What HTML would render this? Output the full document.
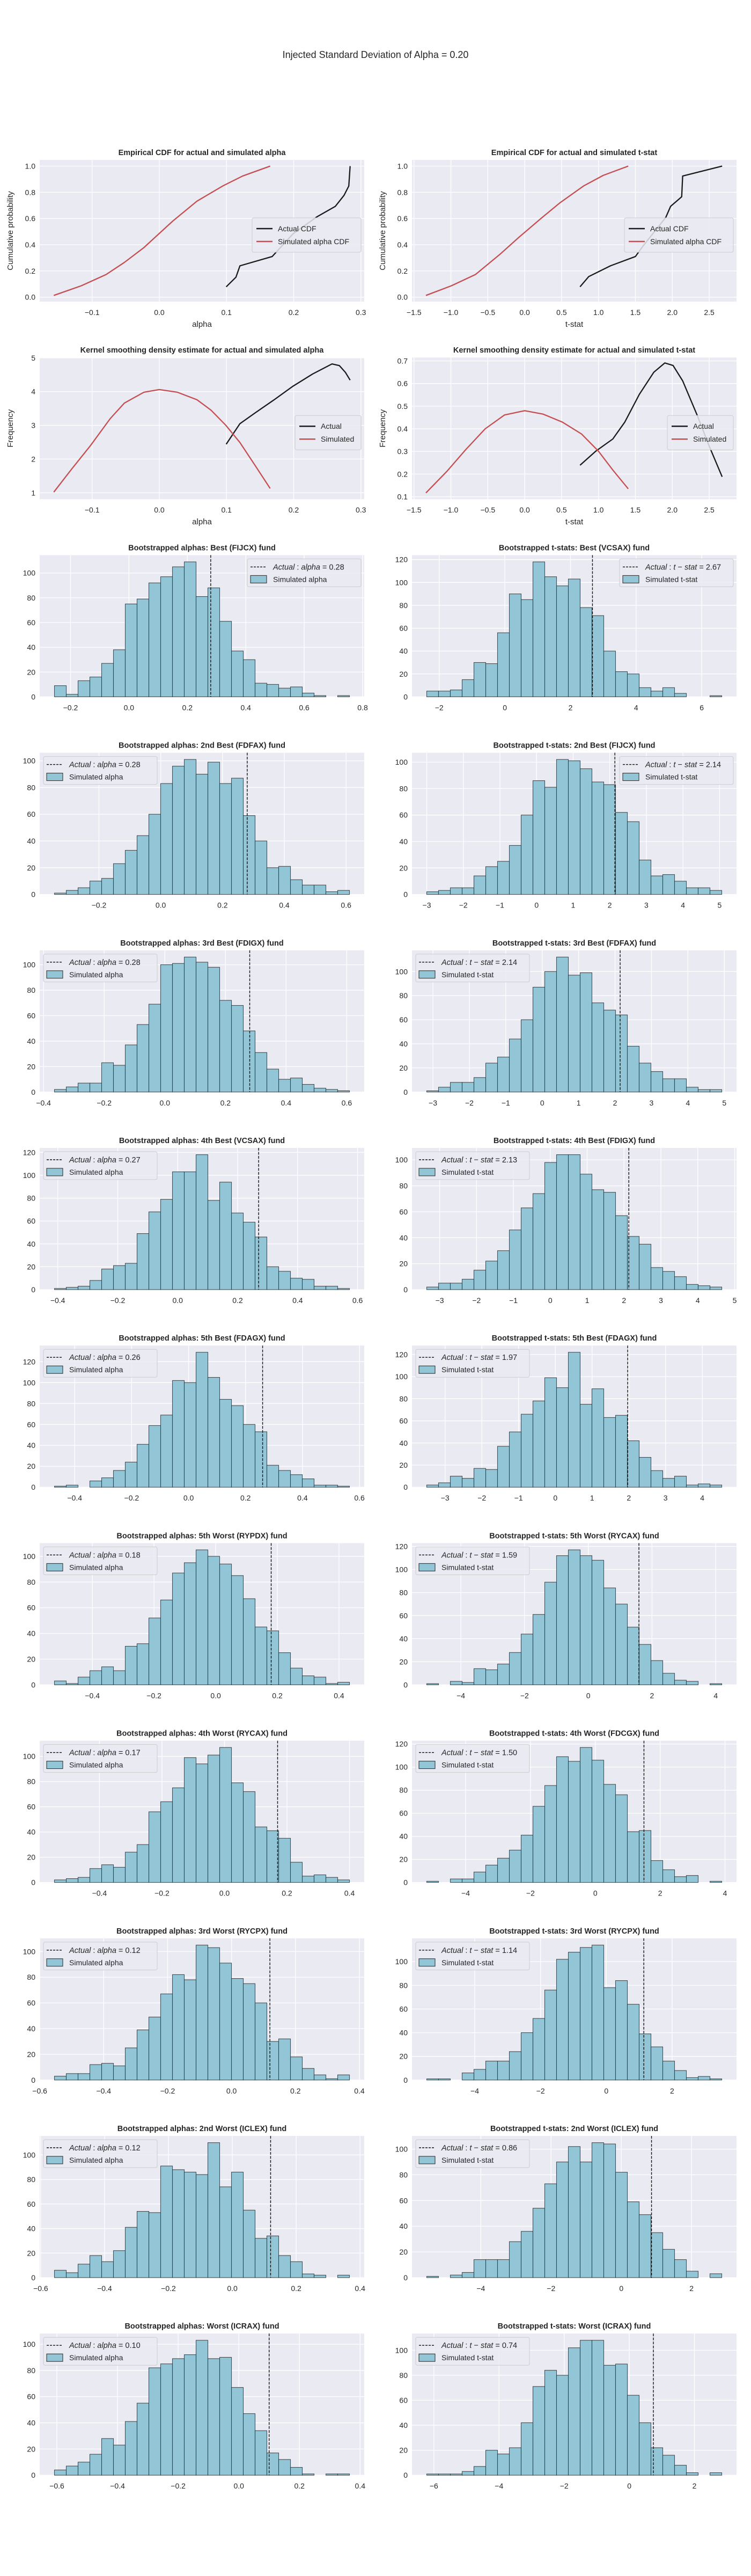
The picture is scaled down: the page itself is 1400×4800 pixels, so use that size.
<!DOCTYPE html>
<html><head><meta charset="utf-8"><title>Injected Standard Deviation of Alpha = 0.20</title>
<style>
html,body{margin:0;padding:0;background:#fff;}
svg{display:block;font-family:"Liberation Sans",Arial,sans-serif;}
</style></head>
<body>
<svg id="fig" width="1400" height="4800" viewBox="0 0 1400 4800" xmlns="http://www.w3.org/2000/svg">
<text x="700" y="108" text-anchor="middle" font-size="18" fill="#262626">Injected Standard Deviation of Alpha = 0.20</text>
</svg>
<script>
// ---------- Data: ECDF / KDE ----------
const cdfAlphaSimX = [-0.157,-0.116,-0.079,-0.052,-0.023,0.020,0.056,0.095,0.124,0.165];
const cdfAlphaSimY = [0.013,0.087,0.173,0.265,0.378,0.58,0.732,0.85,0.924,1.0];
const cdfAlphaActX = [0.0996,0.114,0.120,0.168,0.199,0.235,0.262,0.275,0.282,0.284];
const cdfAlphaActY = [0.079,0.152,0.239,0.310,0.483,0.614,0.693,0.777,0.848,1.0];
const cdfTSimX = [-1.338,-0.992,-0.666,-0.339,-0.078,0.215,0.476,0.803,1.064,1.403];
const cdfTSimY = [0.013,0.087,0.173,0.325,0.457,0.598,0.719,0.85,0.929,1.0];
const cdfTActX = [0.75,0.868,1.162,1.5,1.605,1.912,1.977,2.127,2.14,2.675];
const cdfTActY = [0.079,0.157,0.239,0.31,0.391,0.609,0.693,0.766,0.924,1.0];
const kdeAlphaSimX = [-0.157,-0.131,-0.102,-0.073,-0.052,-0.023,0.0,0.027,0.056,0.077,0.099,0.12,0.142,0.165];
const kdeAlphaSimY = [1.02,1.69,2.41,3.20,3.66,3.98,4.06,3.98,3.76,3.45,3.0,2.49,1.83,1.13];
const kdeAlphaActX = [0.0996,0.12,0.142,0.171,0.199,0.228,0.257,0.268,0.277,0.284];
const kdeAlphaActY = [2.44,3.05,3.36,3.76,4.16,4.52,4.82,4.77,4.57,4.34];
const kdeTSimX = [-1.338,-1.057,-0.796,-0.535,-0.274,0,0.248,0.509,0.77,0.998,1.194,1.403];
const kdeTSimY = [0.117,0.211,0.309,0.4,0.461,0.48,0.465,0.43,0.377,0.302,0.218,0.135];
const kdeTActX = [0.75,0.966,1.194,1.357,1.553,1.749,1.899,2.01,2.14,2.336,2.499,2.675];
const kdeTActY = [0.239,0.302,0.355,0.43,0.552,0.65,0.691,0.68,0.612,0.461,0.324,0.188];

// ---------- Data: bootstrapped histograms (25 bins each) ----------
const histTitles = [
 "Bootstrapped alphas: Best (FIJCX) fund","Bootstrapped t-stats: Best (VCSAX) fund",
 "Bootstrapped alphas: 2nd Best (FDFAX) fund","Bootstrapped t-stats: 2nd Best (FIJCX) fund",
 "Bootstrapped alphas: 3rd Best (FDIGX) fund","Bootstrapped t-stats: 3rd Best (FDFAX) fund",
 "Bootstrapped alphas: 4th Best (VCSAX) fund","Bootstrapped t-stats: 4th Best (FDIGX) fund",
 "Bootstrapped alphas: 5th Best (FDAGX) fund","Bootstrapped t-stats: 5th Best (FDAGX) fund",
 "Bootstrapped alphas: 5th Worst (RYPDX) fund","Bootstrapped t-stats: 5th Worst (RYCAX) fund",
 "Bootstrapped alphas: 4th Worst (RYCAX) fund","Bootstrapped t-stats: 4th Worst (FDCGX) fund",
 "Bootstrapped alphas: 3rd Worst (RYCPX) fund","Bootstrapped t-stats: 3rd Worst (RYCPX) fund",
 "Bootstrapped alphas: 2nd Worst (ICLEX) fund","Bootstrapped t-stats: 2nd Worst (ICLEX) fund",
 "Bootstrapped alphas: Worst (ICRAX) fund","Bootstrapped t-stats: Worst (ICRAX) fund"];
const histMin = [-0.255,-2.38,-0.344,-3.0,-0.364,-3.17,-0.411,-3.35,-0.471,-3.5,-0.523,-5.07,-0.544,-5.2,-0.554,-5.46,-0.557,-5.54,-0.608,-6.22];
const histMax = [0.755,6.61,0.611,5.06,0.609,4.93,0.573,4.65,0.565,4.53,0.434,4.19,0.4,3.9,0.369,3.51,0.367,2.86,0.365,2.84];
const histActual = [0.28,2.67,0.28,2.14,0.28,2.14,0.27,2.13,0.26,1.97,0.18,1.59,0.17,1.50,0.12,1.14,0.12,0.86,0.10,0.74];
const histTickStep = [0.2,2,0.2,1,0.2,1,0.2,1,0.2,1,0.2,2,0.2,2,0.2,2,0.2,2,0.2,2];
const histLegendRight = [true,true,false,true,false,false,false,false,false,false,false,false,false,false,false,false,false,false,false,false];
const histCounts = [
 [9,2,13,16,27,38,75,79,92,97,105,109,81,88,61,37,30,11,10,7,8,3,1,0,1],
 [5,5,6,15,30,29,56,90,85,118,105,97,103,78,71,40,22,20,8,5,8,3,0,0,1],
 [1,3,5,10,12,23,33,44,60,83,96,101,90,99,83,87,59,40,20,21,11,7,7,2,3],
 [2,3,5,5,14,21,25,37,60,86,81,102,101,95,85,83,62,55,26,14,15,10,5,5,3],
 [2,4,7,7,23,21,37,53,69,100,101,106,102,98,72,68,48,31,18,10,11,6,3,2,1],
 [1,4,8,8,12,24,29,44,60,87,100,112,97,99,74,68,64,38,24,17,11,11,4,2,2],
 [1,2,3,8,18,21,23,49,68,79,103,103,118,78,94,67,59,46,20,16,10,9,3,3,1],
 [2,5,5,8,15,22,30,46,63,74,98,104,104,89,77,75,57,41,35,17,14,10,4,3,2],
 [1,2,0,6,9,16,24,41,59,69,102,100,129,105,84,78,60,53,21,16,12,8,2,2,1],
 [2,4,10,8,17,16,37,50,66,78,99,90,122,75,89,63,65,42,27,15,8,10,2,3,2],
 [3,1,6,11,14,11,30,32,52,66,87,95,105,100,94,85,67,45,42,25,13,7,6,1,2],
 [1,0,3,2,14,13,18,28,44,61,89,112,117,112,108,84,70,50,35,21,10,4,3,0,1],
 [2,3,4,11,14,12,24,30,56,64,75,99,94,101,107,79,72,44,41,35,16,5,6,4,2],
 [1,0,3,3,9,15,21,28,41,66,84,109,105,117,106,85,76,44,45,19,11,5,6,0,1],
 [3,5,5,12,13,11,25,39,49,67,82,78,105,103,91,79,75,60,30,32,18,9,4,1,4],
 [1,1,0,6,9,16,16,24,40,52,76,102,108,112,114,78,84,64,39,28,16,8,2,3,1],
 [6,4,11,18,13,22,41,54,53,91,88,86,84,110,74,86,55,32,34,18,13,3,2,0,2],
 [1,0,2,4,14,14,14,28,36,54,73,90,102,90,105,104,82,59,49,35,22,14,5,0,3],
 [4,7,10,16,28,23,41,55,82,85,89,92,103,89,90,67,47,34,17,12,6,1,0,1,1],
 [1,1,1,3,7,20,17,22,42,71,84,80,102,108,108,88,89,64,42,22,16,8,2,0,2]];

// ---------- Layout ----------
const SVGNS = "http://www.w3.org/2000/svg";
const fig = document.getElementById('fig');
const colX = [74, 768], AW = 605, AH = 264;
function rowTop(i){ return 298 + i*368.2; }
function el(tag, attrs, parent){
  const e = document.createElementNS(SVGNS, tag);
  for (const k in attrs) e.setAttribute(k, attrs[k]);
  (parent||fig).appendChild(e); return e;
}
function fmt(v, step){
  let d = step < 1 ? (step < 0.1 ? 2 : 1) : 0;
  let s = Math.abs(v) < 1e-9 ? (0).toFixed(d) : v.toFixed(d);
  return s.replace('-', '\u2212');
}
function makeAxes(name, x0, y0, xlim, ylim, xticks, yticks, xstep, ystep){
  const g = el('g', {});
  
  
  const bg = el('rect', {x:x0, y:y0, width:AW, height:AH, fill:'#eaeaf2'}, g);
  
  
  const sx = v => x0 + (v - xlim[0]) / (xlim[1] - xlim[0]) * AW;
  const sy = v => y0 + AH - (v - ylim[0]) / (ylim[1] - ylim[0]) * AH;
  xticks.forEach(t => {
    const x = sx(t);
    const gl = el('line', {x1:x, x2:x, y1:y0, y2:y0+AH, stroke:'#fff', 'stroke-width':1.3}, g);
    
    
    const tl = el('text', {x:x, y:y0+AH+25, 'text-anchor':'middle', 'font-size':14, fill:'#262626'}, g);
    
    
    tl.textContent = fmt(t, xstep);
  });
  yticks.forEach(t => {
    const y = sy(t);
    const gl = el('line', {x1:x0, x2:x0+AW, y1:y, y2:y, stroke:'#fff', 'stroke-width':1.3}, g);
    
    
    const tl = el('text', {x:x0-8, y:y+5, 'text-anchor':'end', 'font-size':14, fill:'#262626'}, g);
    
    
    tl.textContent = fmt(t, ystep);
  });
  return {g, sx, sy};
}
function ticksIn(lo, hi, step){
  const out = [];
  for (let k = Math.ceil(lo/step - 1e-9); k*step <= hi + 1e-9; k++) out.push(Math.round(k*step*1000)/1000);
  return out;
}
function lim(mn, mx){ const r = mx - mn; return [mn - 0.05*r, mx + 0.05*r]; }
function title(g, x0, y0, txt){
  const t = el('text', {x:x0+AW/2, y:y0-9, 'text-anchor':'middle', 'font-size':14.5, 'font-weight':'bold', fill:'#262626'}, g);
  
  
  t.textContent = txt;
}
function axisLabels(g, x0, y0, xl, yl){
  const a = el('text', {x:x0+AW/2, y:y0+AH+47, 'text-anchor':'middle', 'font-size':15, fill:'#262626'}, g);
  
  
  a.textContent = xl;
  const b = el('text', {x:0, y:0, 'text-anchor':'middle', 'font-size':15, fill:'#262626',
    transform:`translate(${x0-50},${y0+AH/2}) rotate(-90)`}, g);
  
  
  b.textContent = yl;
}
function curve(g, ax, xs, ys, color, name){
  const d = xs.map((x,i)=>(i?'L':'M')+ax.sx(x).toFixed(1)+','+ax.sy(ys[i]).toFixed(1)).join(' ');
  const p = el('path', {d, fill:'none', stroke:color, 'stroke-width':2.3, 'stroke-linejoin':'round'}, g);
  
  
}
function lineLegend(g, x, y, w, labels, colors){
  const lg = el('g', {}, g);
  
  
  el('rect', {x, y, width:w, height:16+labels.length*24, rx:3, fill:'#eaeaf2', 'fill-opacity':0.85, stroke:'#cccccc'}, lg);
  labels.forEach((lab,i)=>{
    const e = el('g', {}, lg);
    
    
    const cy = y + 20 + i*24;
    el('line', {x1:x+8, x2:x+38, y1:cy, y2:cy, stroke:colors[i], 'stroke-width':2.5}, e);
    const t = el('text', {x:x+48, y:cy+5, 'font-size':14, fill:'#262626'}, e);
    t.textContent = lab;
  });
}

// ---------- Row 1 & 2: ECDF and KDE ----------
function linePanel(name, row, col, xlim, ylim, xstep, ystep, ttl, xl, yl, sets, legY, legW, legLabels){
  const x0 = colX[col], y0 = rowTop(row);
  const ax = makeAxes(name, x0, y0, xlim, ylim, ticksIn(xlim[0], xlim[1], xstep), ticksIn(ylim[0], ylim[1], ystep), xstep, ystep);
  title(ax.g, x0, y0, ttl);
  axisLabels(ax.g, x0, y0, xl, yl);
  sets.forEach(s => curve(ax.g, ax, s[0], s[1], s[2], s[3]));
  lineLegend(ax.g, x0+AW-6-legW, y0+legY, legW, legLabels, ['#1a1a1a','#c44e52']);
}
linePanel('ecdf-alpha-panel', 0, 0, [-0.178,0.305], [-0.034,1.047], 0.1, 0.2,
  'Empirical CDF for actual and simulated alpha', 'alpha', 'Cumulative probability',
  [[cdfAlphaActX,cdfAlphaActY,'#1a1a1a','actual-cdf-line'],[cdfAlphaSimX,cdfAlphaSimY,'#c44e52','simulated-cdf-line']],
  108, 203, ['Actual CDF','Simulated alpha CDF']);
linePanel('ecdf-tstat-panel', 0, 1, [-1.527,2.87], [-0.034,1.047], 0.5, 0.2,
  'Empirical CDF for actual and simulated t-stat', 't-stat', 'Cumulative probability',
  [[cdfTActX,cdfTActY,'#1a1a1a','actual-cdf-line'],[cdfTSimX,cdfTSimY,'#c44e52','simulated-cdf-line']],
  108, 203, ['Actual CDF','Simulated alpha CDF']);
linePanel('kde-alpha-panel', 1, 0, [-0.178,0.305], [0.81,5.01], 0.1, 1,
  'Kernel smoothing density estimate for actual and simulated alpha', 'alpha', 'Frequency',
  [[kdeAlphaActX,kdeAlphaActY,'#1a1a1a','actual-kde-line'],[kdeAlphaSimX,kdeAlphaSimY,'#c44e52','simulated-kde-line']],
  108, 123, ['Actual','Simulated']);
linePanel('kde-tstat-panel', 1, 1, [-1.527,2.87], [0.089,0.715], 0.5, 0.1,
  'Kernel smoothing density estimate for actual and simulated t-stat', 't-stat', 'Frequency',
  [[kdeTActX,kdeTActY,'#1a1a1a','actual-kde-line'],[kdeTSimX,kdeTSimY,'#c44e52','simulated-kde-line']],
  108, 123, ['Actual','Simulated']);

// ---------- Histograms ----------
histCounts.forEach((counts, idx) => {
  const row = 2 + Math.floor(idx/2), col = idx % 2;
  const x0 = colX[col], y0 = rowTop(row);
  const mn = histMin[idx], mx = histMax[idx];
  const xlim = lim(mn, mx);
  const cmax = Math.max(...counts);
  const ylim = [0, cmax*1.05];
  const isAlpha = col === 0;
  const ax = makeAxes(isAlpha ? 'alpha-histogram-panel' : 'tstat-histogram-panel', x0, y0, xlim, ylim,
    ticksIn(xlim[0], xlim[1], histTickStep[idx]), ticksIn(0, ylim[1], 20), histTickStep[idx], 20);
  title(ax.g, x0, y0, histTitles[idx]);
  const bw = (mx - mn) / counts.length;
  counts.forEach((c, i) => {
    if (c <= 0) return;
    const xa = ax.sx(mn + i*bw), xb = ax.sx(mn + (i+1)*bw);
    const r = el('rect', {x:xa, y:ax.sy(c), width:xb-xa, height:ax.sy(0)-ax.sy(c),
      fill:'#92c6d7', stroke:'#333333', 'stroke-width':1.1, 'stroke-opacity':0.85}, ax.g);
    
    
  });
  const vx = ax.sx(histActual[idx]);
  const vl = el('line', {x1:vx, x2:vx, y1:y0, y2:y0+AH, stroke:'#111', 'stroke-width':1.4, 'stroke-dasharray':'5,2.5'}, ax.g);
  
  
  const lw = 212, lx = histLegendRight[idx] ? x0+AW-6-lw : x0+7, ly = y0+7;
  const lg = el('g', {}, ax.g);
  
  
  el('rect', {x:lx, y:ly, width:lw, height:52, rx:3, fill:'#eaeaf2', 'fill-opacity':0.85, stroke:'#cccccc'}, lg);
  el('line', {x1:lx+6, x2:lx+36, y1:ly+15, y2:ly+15, stroke:'#111', 'stroke-width':1.4, 'stroke-dasharray':'4,2'}, lg);
  const t1 = el('text', {x:lx+48, y:ly+20, 'font-size':14.5, fill:'#262626'}, lg);
  
  
  const val = histActual[idx].toFixed(2);
  t1.innerHTML = isAlpha
    ? `<tspan font-style="italic">Actual</tspan> : <tspan font-style="italic">alpha</tspan> = ${val}`
    : `<tspan font-style="italic">Actual</tspan> : <tspan font-style="italic">t</tspan> \u2212 <tspan font-style="italic">stat</tspan> = ${val}`;
  el('rect', {x:lx+6, y:ly+31, width:30, height:14, fill:'#92c6d7', stroke:'#333', 'stroke-width':1.1}, lg);
  const t2 = el('text', {x:lx+48, y:ly+43, 'font-size':14, fill:'#262626'}, lg);
  
  
  t2.textContent = isAlpha ? 'Simulated alpha' : 'Simulated t-stat';
});
</script>
</body></html>
